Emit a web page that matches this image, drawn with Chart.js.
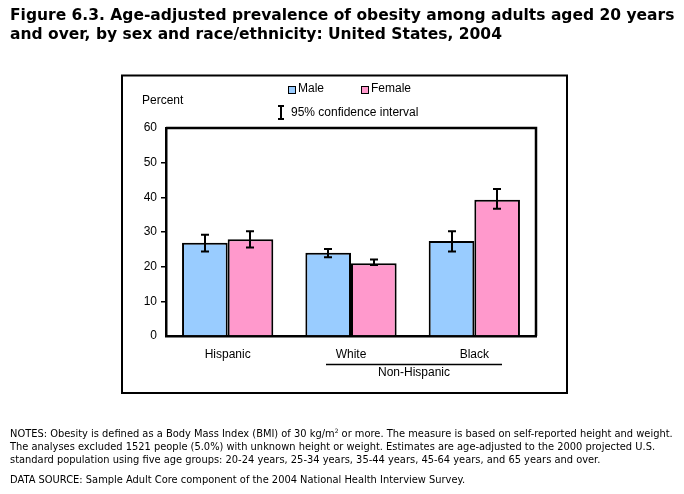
<!DOCTYPE html>
<html>
<head>
<meta charset="utf-8">
<script src="https://cdn.jsdelivr.net/npm/chart.js@4/dist/chart.umd.min.js"></script>
<style>
  body { margin: 0; background: #fff; }
  #wrap { position: relative; width: 684px; height: 494px; overflow: hidden; }
  #myChart { position: absolute; left: 0; top: 0; }
  .title { position: absolute; left: 10px; top: 6px; font-family: "DejaVu Sans", Verdana, sans-serif;
           font-weight: bold; font-size: 15.5px; line-height: 19px; color: #000; white-space: nowrap; }
  .notes { position: absolute; left: 10px; top: 427px; font-family: "DejaVu Sans", Verdana, sans-serif;
           font-size: 9.9px; line-height: 13px; color: #000; white-space: nowrap; }
  .notes sup { font-size: 6px; line-height: 0; }
  .src { position: absolute; left: 10px; top: 473px; font-family: "DejaVu Sans", Verdana, sans-serif;
         font-size: 9.9px; line-height: 13px; color: #000; white-space: nowrap; }
</style>
</head>
<body>
<div id="wrap">
  <canvas id="myChart" width="684" height="494"></canvas>
  <div class="title">Figure 6.3. Age-adjusted prevalence of obesity among adults aged 20 years<br>and over, by sex and race/ethnicity: United States, 2004</div>
  <div class="notes">NOTES: Obesity is defined as a Body Mass Index (BMI) of 30 kg/m<sup>2</sup> or more. The measure is based on self-reported height and weight.<br>The analyses excluded 1521 people (5.0%) with unknown height or weight. Estimates are age-adjusted to the 2000 projected U.S.<br>standard population using five age groups: 20-24 years, 25-34 years, 35-44 years, 45-64 years, and 65 years and over.</div>
  <div class="src">DATA SOURCE: Sample Adult Core component of the 2004 National Health Interview Survey.</div>
</div>
<script>
var categories = ["Hispanic", "White", "Black"];
var maleValues = [26.9, 24.0, 27.4];
var maleLow = [24.4, 22.7, 24.4];
var maleHigh = [29.2, 25.1, 30.2];
var femaleValues = [27.9, 21.0, 39.3];
var femaleLow = [25.5, 20.5, 36.7];
var femaleHigh = [30.2, 22.1, 42.4];
var yTicks = [0, 10, 20, 30, 40, 50, 60];

var lowArrays = [maleLow, femaleLow];
var highArrays = [maleHigh, femaleHigh];

// draws the outer box, plot frame, legend, error bars and the Non-Hispanic bracket
var extras = {
    id: 'extras',
    afterDatasetsDraw: function (chart) {
        var ctx = chart.ctx;
        var area = chart.chartArea;
        var y = chart.scales.y;
        ctx.save();

        // error bars
        ctx.strokeStyle = '#000';
        ctx.lineWidth = 2;
        for (var d = 0; d < 2; d++) {
            var meta = chart.getDatasetMeta(d);
            for (var i = 0; i < meta.data.length; i++) {
                var bx = Math.round(meta.data[i].x);
                var yl = y.getPixelForValue(lowArrays[d][i]);
                var yh = y.getPixelForValue(highArrays[d][i]);
                ctx.beginPath();
                ctx.moveTo(bx, yl); ctx.lineTo(bx, yh);
                ctx.moveTo(bx - 4, yl); ctx.lineTo(bx + 4, yl);
                ctx.moveTo(bx - 4, yh); ctx.lineTo(bx + 4, yh);
                ctx.stroke();
            }
        }

        // plot frame top and right
        ctx.lineWidth = 2.5;
        ctx.beginPath();
        ctx.moveTo(area.left, area.top);
        ctx.lineTo(area.right, area.top);
        ctx.lineTo(area.right, area.bottom);
        ctx.stroke();

        // outer box
        ctx.lineWidth = 2;
        ctx.strokeRect(122, 75.5, 445, 317.5);

        // legend
        ctx.font = '12px "Liberation Sans", Arial, sans-serif';
        ctx.textBaseline = 'middle';
        ctx.fillStyle = '#000';
        ctx.lineWidth = 1;
        ctx.fillStyle = '#99ccff';
        ctx.fillRect(288, 86, 7, 7);
        ctx.strokeRect(288.5, 86.5, 7, 7);
        ctx.fillStyle = '#ff99cc';
        ctx.fillRect(361, 86, 7, 7);
        ctx.strokeRect(361.5, 86.5, 7, 7);
        ctx.fillStyle = '#000';
        ctx.fillText('Male', 298, 89);
        ctx.fillText('Female', 371, 89);

        ctx.lineWidth = 2;
        ctx.beginPath();
        ctx.moveTo(281, 106); ctx.lineTo(281, 119);
        ctx.moveTo(278, 106); ctx.lineTo(284, 106);
        ctx.moveTo(278, 119); ctx.lineTo(284, 119);
        ctx.stroke();
        ctx.fillText('95% confidence interval', 291, 113);

        ctx.fillText('Percent', 142, 101);

        // Non-Hispanic bracket
        ctx.lineWidth = 1.5;
        ctx.beginPath();
        ctx.moveTo(326, 364.5); ctx.lineTo(502, 364.5);
        ctx.stroke();
        ctx.textAlign = 'center';
        ctx.fillText('Non-Hispanic', 414, 373);
        ctx.restore();
    }
};

new Chart("myChart", {
    type: 'bar',
    data: {
        labels: categories,
        datasets: [{
            label: 'Male',
            data: maleValues,
            backgroundColor: '#99ccff',
            borderColor: '#000',
            borderWidth: 2,
            borderSkipped: 'bottom'
        }, {
            label: 'Female',
            data: femaleValues,
            backgroundColor: '#ff99cc',
            borderColor: '#000',
            borderWidth: 2,
            borderSkipped: 'bottom'
        }]
    },
    options: {
        responsive: false,
        animation: false,
        layout: { padding: { left: 122, top: 128, right: 148, bottom: 100 } },
        datasets: { bar: { categoryPercentage: 0.74, barPercentage: 1.0 } },
        plugins: { legend: { display: false }, tooltip: { enabled: false } },
        scales: {
            x: {
                grid: { display: false },
                border: { display: true, color: '#000', width: 2.5 },
                ticks: { color: '#000', padding: 3, font: { family: '"Liberation Sans", Arial, sans-serif', size: 12 } },
                afterFit: function (scale) { scale.height = 58; }
            },
            y: {
                min: 0,
                max: 60,
                afterBuildTicks: function (scale) {
                    scale.ticks = yTicks.map(function (v) { return { value: v }; });
                },
                grid: {
                    drawOnChartArea: false,
                    tickLength: 5,
                    lineWidth: 1.5,
                    color: function (c) {
                        return (c.tick && (c.tick.value === 0 || c.tick.value === 60)) ? 'rgba(0,0,0,0)' : '#000';
                    }
                },
                border: { display: true, color: '#000', width: 2.5 },
                ticks: { color: '#000', padding: 4, font: { family: '"Liberation Sans", Arial, sans-serif', size: 12 } },
                afterFit: function (scale) { scale.width = 44; }
            }
        }
    },
    plugins: [extras]
});
</script>
</body>
</html>
